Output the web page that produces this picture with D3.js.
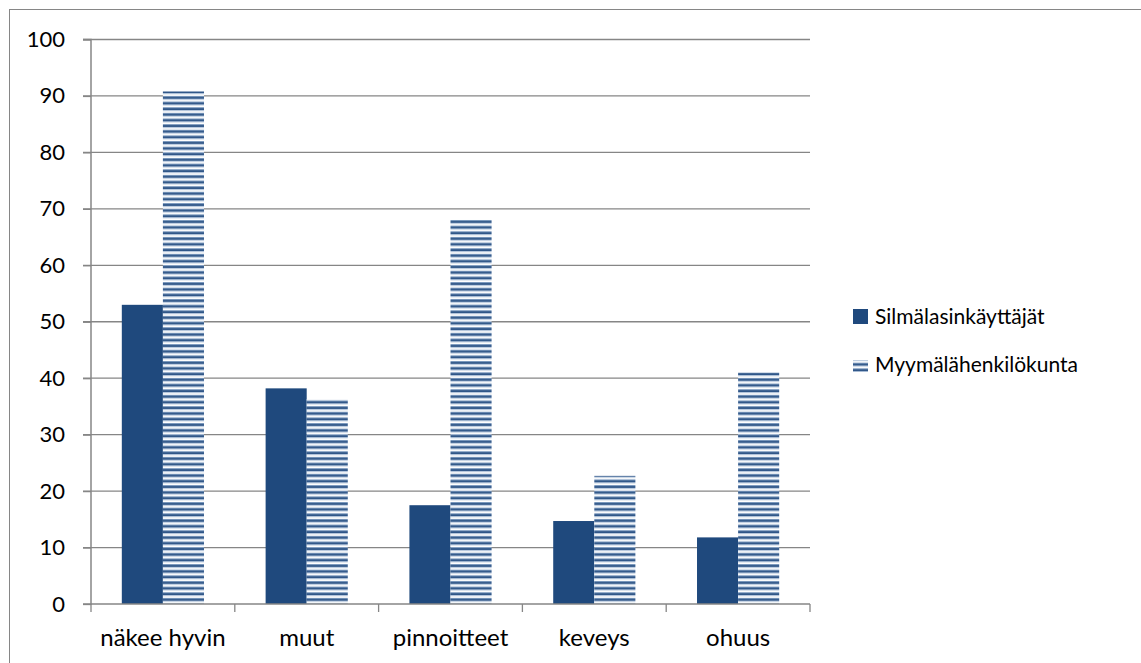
<!DOCTYPE html>
<html>
<head>
<meta charset="utf-8">
<script src="https://cdn.jsdelivr.net/npm/d3@7"></script>
<style>
  html, body { margin: 0; padding: 0; background: #fff; }
  svg { display: block; font-family: Lato, "Open Sans", sans-serif; }
</style>
</head>
<body>
<svg id="chart" width="1141" height="663"></svg>
<script>
// Survey answers (%), two respondent groups
const categories = ["näkee hyvin", "muut", "pinnoitteet", "keveys", "ohuus"];
const seriesNames = ["Silmälasinkäyttäjät", "Myymälähenkilökunta"];
const silmalasinkayttajat = [53, 38.2, 17.5, 14.7, 11.8];
const myymalahenkilokunta = [90.8, 36.3, 68.1, 22.7, 41];
const yTicks = [0, 10, 20, 30, 40, 50, 60, 70, 80, 90, 100];

const series = [silmalasinkayttajat, myymalahenkilokunta];
const svg = d3.select("#chart");
const gridColor = "#868686";

// Outer frame
svg.append("rect")
  .attr("x", 9.5).attr("y", 9.5)
  .attr("width", 1145).attr("height", 670)
  .attr("fill", "none").attr("stroke", gridColor).attr("stroke-width", 1);

// Striped fill for the second series
const defs = svg.append("defs");
const pat = defs.append("pattern")
  .attr("id", "stripes")
  .attr("patternUnits", "userSpaceOnUse")
  .attr("width", 8).attr("height", 5.64);
pat.append("rect").attr("width", 8).attr("height", 5.64).attr("fill", "#ffffff");
pat.append("rect").attr("y", 0).attr("width", 8).attr("height", 1).attr("fill", "#7f9cc0");
pat.append("rect").attr("y", 1).attr("width", 8).attr("height", 2).attr("fill", "#2f5688");
pat.append("rect").attr("y", 3).attr("width", 8).attr("height", 1).attr("fill", "#a9bdd7");

const plotLeft = 91, plotRight = 810, plotTop = 39.5, plotBottom = 604;

const x0 = d3.scaleBand().domain(categories).range([plotLeft, plotRight]).paddingInner(0).paddingOuter(0);
const groupW = x0.bandwidth() / 1.75;
const x1 = d3.scaleBand().domain([0, 1]).range([0, groupW]);
const y = d3.scaleLinear().domain([0, 100]).range([plotBottom, plotTop]);

// Horizontal gridlines
svg.append("g")
  .selectAll("line")
  .data(yTicks.filter(t => t > 0))
  .join("line")
  .attr("x1", plotLeft - 8).attr("x2", plotRight)
  .attr("y1", d => y(d)).attr("y2", d => y(d))
  .attr("stroke", gridColor).attr("stroke-width", 1.3);

// Bars
const groups = svg.append("g")
  .selectAll("g")
  .data(categories)
  .join("g")
  .attr("transform", (d) => `translate(${x0(d) + (x0.bandwidth() - groupW) / 2},0)`);

groups.selectAll("rect")
  .data((d, i) => series.map((s, k) => ({ k, v: s[i] })))
  .join("rect")
  .attr("x", d => x1(d.k))
  .attr("width", x1.bandwidth())
  .attr("y", d => y(d.v))
  .attr("height", d => y(0) - y(d.v))
  .attr("fill", d => d.k === 0 ? "#1f497d" : "url(#stripes)");

// Y axis
const yAxis = d3.axisLeft(y).tickValues(yTicks).tickSize(8).tickPadding(18).tickFormat(d3.format("d"));
const gy = svg.append("g").attr("transform", `translate(${plotLeft},0)`).call(yAxis);
gy.select(".domain").attr("stroke", gridColor).attr("stroke-width", 1.5).attr("d", `M-8,${plotTop}H0V${plotBottom}H-8`);
gy.selectAll(".tick line").attr("stroke", gridColor).attr("stroke-width", 1.3);
gy.selectAll(".tick text").attr("fill", "#000").style("font-size", "22px").style("font-family", "Lato, sans-serif");

// X axis with ticks between categories
const xAxis = d3.axisBottom(x0).tickSize(0).tickPadding(25);
const gx = svg.append("g").attr("transform", `translate(0,${plotBottom})`).call(xAxis);
gx.select(".domain").attr("stroke", gridColor).attr("stroke-width", 1.5).attr("d", `M${plotLeft},0H${plotRight}`);
gx.selectAll(".tick text").attr("fill", "#000").style("font-size", "24px").style("font-family", "Lato, sans-serif");
const bounds = categories.map(c => x0(c)).concat([plotRight]);
gx.append("g").selectAll("line")
  .data(bounds)
  .join("line")
  .attr("x1", d => d).attr("x2", d => d)
  .attr("y1", 0).attr("y2", 8)
  .attr("stroke", gridColor).attr("stroke-width", 1.3);

// Legend
const legend = svg.append("g").attr("transform", "translate(853,309)");
seriesNames.forEach((name, k) => {
  const g = legend.append("g").attr("transform", `translate(0,${k * 48})`);
  g.append("rect").attr("width", 15).attr("height", k === 0 ? 15 : 12)
    .attr("y", k === 0 ? 0 : 3)
    .attr("fill", k === 0 ? "#1f497d" : "url(#stripes)");
  g.append("text").attr("x", 22).attr("y", 15)
    .attr("fill", "#000").style("font-size", "21px")
    .text(name);
});
</script>
</body>
</html>
